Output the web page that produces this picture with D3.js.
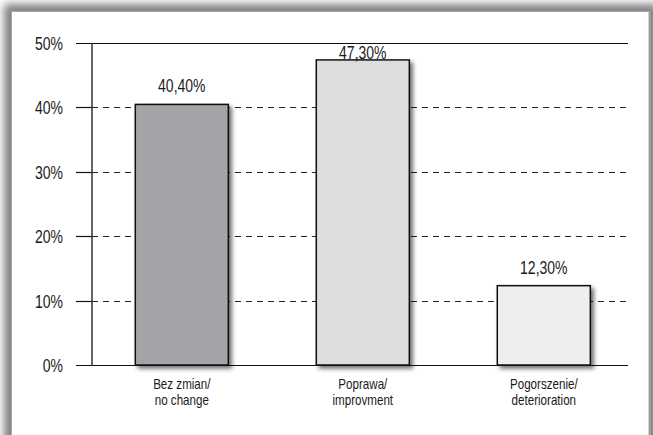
<!DOCTYPE html>
<html>
<head>
<meta charset="utf-8">
<script src="https://cdn.jsdelivr.net/npm/d3@7"></script>
<style>
  html, body { margin: 0; padding: 0; background: #ffffff; }
  svg { display: block; }
  text { font-family: "Liberation Sans", Arial, sans-serif; fill: #1a1a1a; }
</style>
</head>
<body>
<script>
// Categories (two-line labels: Polish / English)
const categories = ["Bez zmian/\nno change", "Poprawa/\nimprovment", "Pogorszenie/\ndeterioration"];
// Share of answers, in percent
const values = [40.4, 47.3, 12.3];
// Value labels as printed above the bars
const valueLabels = ["40,40%", "47,30%", "12,30%"];
// Y-axis ticks
const yTicks = [0, 10, 20, 30, 40, 50];
const yTickLabels = ["0%", "10%", "20%", "30%", "40%", "50%"];
// Bar fills
const barFills = ["#a4a3a8", "#dddddf", "#eeeef0"];

const W = 653, H = 435;
const NARROW = 0.8; // horizontal squeeze for a condensed look

const svg = d3.select("body").append("svg").attr("width", W).attr("height", H);
const defs = svg.append("defs");

// Soft panel shadow
const panelBlur = defs.append("filter").attr("id", "panelShadow")
  .attr("x", "-10%").attr("y", "-10%").attr("width", "120%").attr("height", "120%");
panelBlur.append("feGaussianBlur").attr("stdDeviation", 4);

// Bar drop shadow toward bottom-right
const barShadow = defs.append("filter").attr("id", "barShadow")
  .attr("x", "-20%").attr("y", "-20%").attr("width", "150%").attr("height", "150%");
barShadow.append("feDropShadow").attr("dx", 3).attr("dy", 3)
  .attr("stdDeviation", 2).attr("flood-color", "#000").attr("flood-opacity", 0.55);

// Panel background with shadow
svg.append("rect").attr("x", 4).attr("y", 4).attr("width", 654).attr("height", 446)
  .attr("fill", "#808080").attr("filter", "url(#panelShadow)");
svg.append("rect").attr("x", 11.5).attr("y", 11.5).attr("width", 637.5).attr("height", 430)
  .attr("fill", "#ffffff").attr("stroke", "#a8a8a8").attr("stroke-width", 1);
svg.append("line").attr("x1", 650).attr("x2", 650).attr("y1", 11).attr("y2", H)
  .attr("stroke", "#9c9c9c").attr("stroke-width", 2);

// Scales
const x = d3.scaleBand().domain(d3.range(categories.length))
  .range([91.3, 634.3]).paddingInner(0.486).paddingOuter(0.243);
const y = d3.scaleLinear().domain([0, 50]).range([365, 42.5]);

const axisX = 92, lineStart = 76, lineEnd = 628;
const g = svg.append("g");

// Condensed text helper
function label(parent, px, py, str, size, anchor) {
  return parent.append("text")
    .attr("transform", `translate(${px},${py}) scale(${NARROW},1)`)
    .attr("text-anchor", anchor).attr("font-size", size).text(str);
}

// Dashed gridlines inside plot, solid tick stubs outside
yTicks.forEach((t, i) => {
  const yy = Math.round(y(t)) + 0.5;
  const solid = (t === 0 || t === 50);
  g.append("line").attr("x1", lineStart).attr("x2", solid ? lineEnd : axisX)
    .attr("y1", yy).attr("y2", yy).attr("stroke", "#111").attr("stroke-width", 1.2);
  if (!solid) {
    g.append("line").attr("x1", axisX).attr("x2", lineEnd)
      .attr("y1", yy).attr("y2", yy).attr("stroke", "#222").attr("stroke-width", 1)
      .attr("stroke-dasharray", "6,5");
  }
  label(g, 63, yy + 6.5, yTickLabels[i], 17.5, "end");
});

// Vertical axis line
g.append("line").attr("x1", axisX).attr("x2", axisX)
  .attr("y1", Math.round(y(50))).attr("y2", Math.round(y(0)) + 1)
  .attr("stroke", "#333").attr("stroke-width", 1.5);

// Bars
g.selectAll("rect.bar").data(values).join("rect").attr("class", "bar")
  .attr("x", (d, i) => x(i))
  .attr("y", d => y(d))
  .attr("width", x.bandwidth())
  .attr("height", d => y(0) - y(d))
  .attr("fill", (d, i) => barFills[i])
  .attr("stroke", "#111").attr("stroke-width", 1.5)
  .attr("filter", "url(#barShadow)");

// Value labels: above the bar, kept below the top frame line
values.forEach((d, i) => {
  const ly = Math.max(y(d) - 12, y(50) + 16);
  label(g, x(i) + x.bandwidth() / 2, ly, valueLabels[i], 17.5, "middle");
});

// Category labels
categories.forEach((c, i) => {
  c.split("\n").forEach((line, k) => {
    label(g, x(i) + x.bandwidth() / 2, 389 + k * 16, line, 14.5, "middle");
  });
});
</script>
</body>
</html>
